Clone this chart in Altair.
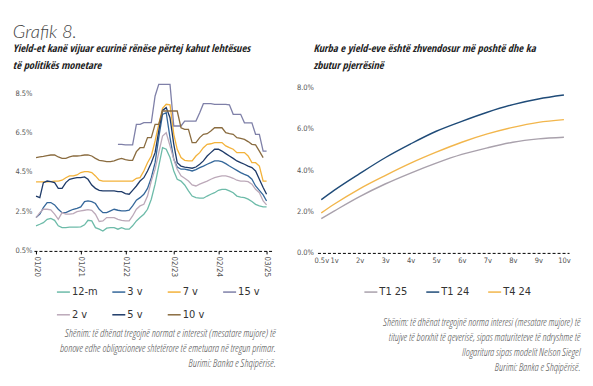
import altair as alt
import pandas as pd

# ---------------- data: left panel (monthly yields, %) ----------------
months = pd.date_range("2020-01-01", periods=63, freq="MS").strftime("%Y-%m-%d").tolist()

y_12m = [1.77, 1.85, 1.93, 2.10, 2.15, 2.05, 1.77, 1.68, 1.68, 1.70, 1.70, 1.70,
         1.72, 1.82, 2.05, 2.02, 1.68, 1.60, 1.51, 1.65, 1.68, 1.68, 1.60, 1.68,
         1.60, 1.60, 1.77, 2.02, 2.19, 2.36, 2.61, 3.12, 3.88, 4.80, 5.73, 5.65,
         5.23, 4.55, 4.13, 4.04, 3.84, 3.54, 3.28, 3.20, 3.17, 3.17, 3.28, 3.37,
         3.45, 3.57, 3.62, 3.62, 3.54, 3.45, 3.28, 3.23, 3.20, 3.12, 3.00, 2.86,
         2.78, 2.73, 2.73]
y_2v = [2.19, 2.44, 2.61, 2.61, 2.58, 2.36, 2.10, 2.44, 2.36, 2.36, 2.39, 2.49,
        2.53, 2.56, 2.59, 2.56, 2.36, 1.99, 2.02, 2.19, 2.19, 2.19, 2.10, 2.05,
        2.02, 2.02, 2.27, 2.61, 2.78, 2.86, 3.28, 4.04, 4.64, 5.48, 6.32, 6.49,
        5.82, 5.14, 4.64, 4.30, 4.18, 4.04, 3.84, 3.79, 3.88, 3.96, 4.04, 4.13,
        4.21, 4.26, 4.30, 4.30, 4.25, 4.18, 4.08, 4.04, 4.04, 4.01, 3.88, 3.62,
        3.45, 3.03, 2.83]
y_3v = [2.19, 2.36, 2.69, 2.95, 2.95, 2.83, 2.61, 2.44, 2.44, 2.53, 2.61, 2.66,
        2.73, 3.00, 3.03, 3.00, 2.90, 2.61, 2.44, 2.44, 2.53, 2.61, 2.56, 2.53,
        2.53, 2.56, 2.78, 3.07, 3.20, 3.37, 3.67, 4.21, 4.97, 6.24, 7.42, 7.50,
        6.24, 5.14, 4.75, 4.64, 4.64, 4.60, 4.55, 4.62, 4.72, 4.80, 4.89, 4.97,
        5.06, 5.06, 5.02, 4.92, 4.80, 4.69, 4.58, 4.47, 4.38, 4.30, 4.13, 3.79,
        3.57, 3.34, 3.03]
y_5v = [3.28, 3.20, 3.96, 4.04, 4.01, 3.96, 3.67, 3.67, 3.96, 4.13, 4.18, 4.21,
        4.21, 4.25, 4.13, 3.84, 3.67, 3.57, 3.54, 3.54, 3.54, 3.54, 3.50, 3.50,
        3.40, 3.37, 3.57, 3.79, 4.04, 4.21, 4.55, 4.97, 5.48, 6.58, 7.62, 7.76,
        7.25, 5.90, 4.97, 4.80, 4.75, 4.72, 4.69, 4.75, 4.89, 5.06, 5.31, 5.48,
        5.65, 5.65, 5.56, 5.43, 5.31, 5.19, 5.06, 4.97, 4.89, 4.80, 4.72, 4.55,
        4.13, 3.71, 3.37]
y_7v = [4.00, 4.00, 4.00, 4.00, 4.01, 4.04, 4.04, 4.08, 4.21, 4.30, 4.30, 4.35,
        4.47, 4.52, 4.52, 4.47, 4.30, 4.08, 4.04, 4.04, 4.04, 4.04, 4.04, 4.04,
        4.04, 4.04, 4.04, 4.18, 4.21, 4.55, 4.97, 5.31, 6.07, 6.91, 7.72, 7.93,
        7.90, 6.41, 5.65, 5.23, 5.09, 5.06, 5.06, 5.31, 5.48, 5.73, 5.90, 5.93,
        5.99, 5.99, 5.99, 5.82, 5.73, 5.65, 5.48, 5.48, 5.48, 5.31, 4.97, 4.97,
        4.80, 4.04, 4.04]
y_10v = [5.23, 5.26, 5.29, 5.33, 5.36, 5.36, 5.26, 5.19, 5.19, 5.26, 5.31, 5.31,
         5.33, 5.36, 5.36, 5.31, 5.19, 5.09, 5.06, 5.02, 5.02, 5.06, 5.14, 5.19,
         5.12, 5.09, 5.09, 5.53, 5.73, 5.73, 6.24, 6.24, 6.91, 6.91, 7.59, 7.59,
         7.59, 7.59, 7.59, 6.74, 6.66, 6.66, 5.99, 5.99, 6.24, 6.41, 6.44, 6.58,
         6.74, 6.74, 6.74, 6.49, 6.44, 6.41, 6.24, 6.20, 6.15, 6.04, 5.90, 5.87,
         5.56, 5.23, None]
y_15v = [None] * 22 + [
         5.90, 5.90, 5.87, 5.87, 5.87, 6.91, 6.91, 7.00, 7.00, 7.00, 8.35, 8.94,
         8.94, 8.94, 8.94, 6.83, 6.83, 6.83, 7.08, 7.08, 7.08, 7.08, 7.50, 7.96,
         7.96, 7.96, 7.93, 7.93, 7.93, 7.93, 7.90, 7.42, 7.42, 7.42, 6.99, 6.99,
         6.99, 6.41, 6.41, 5.56, 5.56]

left_names = ["12-m", "3 v", "7 v", "15 v", "2 v", "5 v", "10 v"]
left_values = [y_12m, y_3v, y_7v, y_15v, y_2v, y_5v, y_10v]
left_colors = ["#6DBBA9", "#34679A", "#F3B23A", "#7F80A8", "#BCA9B9", "#1E3A68", "#8A6C40"]

x_tick_dates = [(2020, 1), (2021, 1), (2022, 1), (2023, 2), (2024, 2), (2025, 3)]
left_y_ticks = [0.5, 2.5, 4.5, 6.5, 8.5]

# ---------------- data: right panel (yield curves, %) ----------------
maturities = [0.5, 1, 2, 3, 4, 5, 6, 7, 8, 9, 10]
t1_25 = [1.66, 2.02, 2.72, 3.33, 3.86, 4.34, 4.76, 5.08, 5.35, 5.51, 5.59]
t1_24 = [2.57, 3.02, 3.83, 4.60, 5.27, 5.88, 6.36, 6.80, 7.17, 7.44, 7.63]
t4_24 = [1.93, 2.35, 3.10, 3.74, 4.34, 4.87, 5.35, 5.75, 6.07, 6.31, 6.44]
right_names = ["T1 25", "T1 24", "T4 24"]
right_values = [t1_25, t1_24, t4_24]
right_colors = ["#A9A1AC", "#1F4B78", "#F2B64C"]
right_y_ticks = [0, 2, 4, 6, 8]

# ---------------- text ----------------
fig_title = "Grafik 8."
left_heading = ["Yield-et kanë vijuar ecurinë rënëse përtej kahut lehtësues",
                "të politikës monetare"]
right_heading = ["Kurba e yield-eve është zhvendosur më poshtë dhe ka",
                 "zbutur pjerrësinë"]
left_notes = ["Shënim: të dhënat tregojnë normat e interesit (mesatare mujore) të",
              "bonove edhe obligacioneve shtetërore të emetuara në tregun primar.",
              "Burimi: Banka e Shqipërisë."]
right_notes = ["Shënim: të dhënat tregojnë norma interesi (mesatare mujore) të",
               "titujve të borxhit të qeverisë, sipas maturiteteve të ndryshme të",
               "llogaritura sipas modelit Nelson Siegel",
               "Burimi: Banka e Shqipërisë."]

# ---------------- build tables ----------------
rows = []
for name, vals in zip(left_names, left_values):
    for d, v in zip(months, vals):
        if v is not None:
            rows.append({"date": d, "series": name, "value": v})
df_left = pd.DataFrame(rows)

rows = []
for name, vals in zip(right_names, right_values):
    for m, v in zip(maturities, vals):
        rows.append({"mat": m, "series": name, "value": v})
df_right = pd.DataFrame(rows)

HEAD = "Open Sans Condensed"
NOTE = "Open Sans Condensed Light, Lato"
COND = "DejaVu Sans Condensed"
AX = "#555555"

left_plot = alt.Chart(df_left).mark_line(strokeWidth=1.3).encode(
    x=alt.X("date:T",
            scale=alt.Scale(type="utc",
                            domain=[alt.DateTime(year=2019, month=12, date=15, utc=True),
                                    alt.DateTime(year=2025, month=4, date=27, utc=True)]),
            axis=alt.Axis(values=[alt.DateTime(year=y, month=m, date=1, utc=True) for y, m in x_tick_dates],
                          format="%m/%y", labelAngle=90, title=None, grid=False,
                          domainColor="black", domainDash=[3, 2], domainWidth=1,
                          tickColor="black", tickSize=3, labelFontSize=8, labelColor=AX,
                          labelFont=COND, labelPadding=2)),
    y=alt.Y("value:Q", scale=alt.Scale(domain=[0.5, 9.1], nice=False, zero=False),
            axis=alt.Axis(values=left_y_ticks, labelExpr="format(datum.value, '.1f') + '%'",
                          domain=False, ticks=False, grid=False, title=None,
                          labelFontSize=7.5, labelColor=AX, labelFont=COND, labelPadding=2)),
    color=alt.Color("series:N",
                    scale=alt.Scale(domain=left_names, range=left_colors),
                    legend=alt.Legend(orient="none", legendX=22, legendY=203.5,
                                      direction="horizontal", columns=4, title=None,
                                      gridAlign="all",
                                      symbolType="stroke", symbolSize=169, symbolStrokeWidth=1.5,
                                      labelFontSize=11, labelFont=COND, labelColor="#333333",
                                      labelOffset=1, columnPadding=11.5, rowPadding=10)),
).properties(
    width=240, height=170,
    title=alt.TitleParams(left_heading, anchor="start", frame="bounds", dx=-2,
                          font=HEAD, fontSize=10.5, fontStyle="italic", fontWeight="bold",
                          color="#222222", lineHeight=17, offset=9.5),
)

right_plot = alt.Chart(df_right).mark_line(strokeWidth=1.4, interpolate="monotone").encode(
    x=alt.X("mat:Q", scale=alt.Scale(domain=[0.35, 10.2], nice=False, zero=False),
            axis=alt.Axis(values=maturities, labelExpr="datum.value + 'v'", title=None, grid=False,
                          domainColor="black", domainDash=[3, 2], domainWidth=1, ticks=False,
                          labelFontSize=7.5, labelColor=AX, labelFont=COND, labelPadding=4)),
    y=alt.Y("value:Q", scale=alt.Scale(domain=[0, 8.3], nice=False, zero=False),
            axis=alt.Axis(values=right_y_ticks, labelExpr="format(datum.value, '.1f') + '%'",
                          domain=False, ticks=False, grid=False, title=None,
                          labelFontSize=7.5, labelColor=AX, labelFont=COND, labelPadding=4)),
    color=alt.Color("series:N",
                    scale=alt.Scale(domain=right_names, range=right_colors),
                    legend=alt.Legend(orient="none", legendX=46, legendY=203.5,
                                      direction="horizontal", columns=3, title=None,
                                      gridAlign="all",
                                      symbolType="stroke", symbolSize=169, symbolStrokeWidth=1.5,
                                      labelFontSize=11, labelFont=COND, labelColor="#333333",
                                      labelOffset=1, columnPadding=15)),
).properties(
    width=252, height=172,
    title=alt.TitleParams(right_heading, anchor="start", frame="group", dx=-4,
                          font=HEAD, fontSize=10.5, fontStyle="italic", fontWeight="bold",
                          color="#222222", lineHeight=17, offset=9.5),
)

left_col = alt.vconcat(left_plot).properties(
    title=alt.TitleParams(left_notes, orient="bottom", anchor="end", frame="bounds", dx=2,
                          font=NOTE, fontSize=10.7, fontStyle="italic", fontWeight=300,
                          color="#555555", lineHeight=15, offset=8.5))
right_col = alt.vconcat(right_plot).properties(
    title=alt.TitleParams(right_notes, orient="bottom", anchor="end", frame="bounds", dx=10,
                          font=NOTE, fontSize=10.5, fontStyle="italic", fontWeight=300,
                          color="#555555", lineHeight=15, offset=21))

chart = alt.hconcat(left_col, right_col, spacing=20).resolve_scale(
    color="independent"
).resolve_legend(color="independent").properties(
    title=alt.TitleParams(fig_title, anchor="start", font="Lato", fontSize=18.5,
                          fontStyle="italic", fontWeight=300, color="#444444", offset=3),
    padding={"left": 4, "top": 14, "right": 4, "bottom": 4},
    background="white",
).configure_view(stroke=None)

chart.save("out.html", embed_options={"renderer": "svg", "actions": False})
